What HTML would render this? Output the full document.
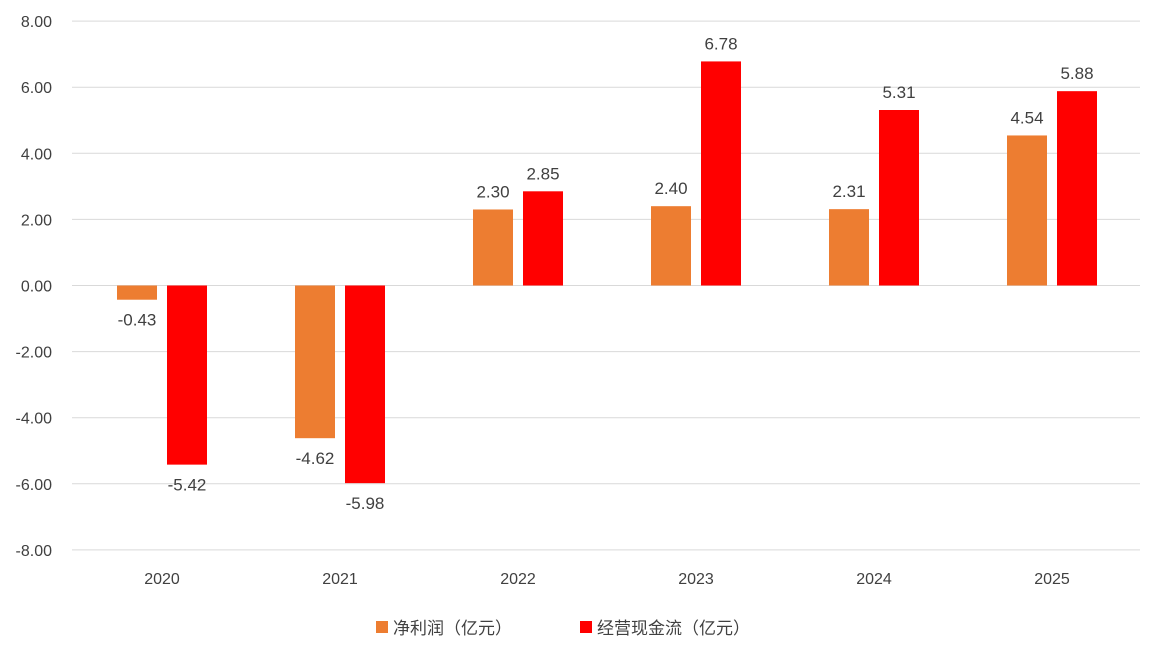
<!DOCTYPE html>
<html><head><meta charset="utf-8"><style>
body{margin:0;background:#fff;}
svg{display:block;font-family:"Liberation Sans","Noto Sans CJK SC",sans-serif;}
</style></head><body>
<svg id="chart" width="1154" height="646"></svg>
<script>
const categories=["2020","2021","2022","2023","2024","2025"];
const netProfit=[-0.43,-4.62,2.30,2.40,2.31,4.54];
const opCashFlow=[-5.42,-5.98,2.85,6.78,5.31,5.88];
const yTicks=[8,6,4,2,0,-2,-4,-6,-8];
const seriesNames=["净利润（亿元）","经营现金流（亿元）"];
const colors=["#ED7D31","#FF0000"];
const NS="http://www.w3.org/2000/svg";
const svg=document.getElementById('chart');
const left=72,right=1140;
const y=v=>285.5-v*33.05;
const band=(right-left)/categories.length;
const xc=i=>left+1+band*(i+0.5);
function mk(t,a,p){const e=document.createElementNS(NS,t);for(const k in a)e.setAttribute(k,a[k]);(p||svg).appendChild(e);return e;}
yTicks.forEach(v=>{
  const g=mk('line',{x1:left,x2:right,y1:y(v),y2:y(v),stroke:'#d9d9d9','stroke-width':1});
  
  
  const t=mk('text',{x:52,y:y(v)+6,'text-anchor':'end','font-size':16,fill:'#404040'});
  t.textContent=v.toFixed(2);
  
  
});
const series=[netProfit,opCashFlow];
const offs=[-25,25];
categories.forEach((c,i)=>{
  const t=mk('text',{x:xc(i),y:584,'text-anchor':'middle','font-size':16,fill:'#404040'});
  t.textContent=c;
  
  
  series.forEach((s,j)=>{
    const v=s[i];const cx=xc(i)+offs[j];
    const top=Math.min(y(v),y(0)),h=Math.abs(y(v)-y(0));
    const r=mk('rect',{x:cx-20,y:top,width:40,height:h,fill:colors[j]});
    
    
    const ly=v>=0?y(v)-12:y(v)+26;
    const l=mk('text',{x:cx,y:ly,'text-anchor':'middle','font-size':17,fill:'#404040'});
    l.textContent=v.toFixed(2);
    
    
  });
});
const lx=[376,580];
seriesNames.forEach((n,j)=>{
  const r=mk('rect',{x:lx[j],y:621,width:12,height:12,fill:colors[j]});
  
  
  const t=mk('text',{x:lx[j]+17,y:634,'font-size':17,fill:'#404040'});
  t.textContent=n;
  
  
});
</script>
</body></html>
